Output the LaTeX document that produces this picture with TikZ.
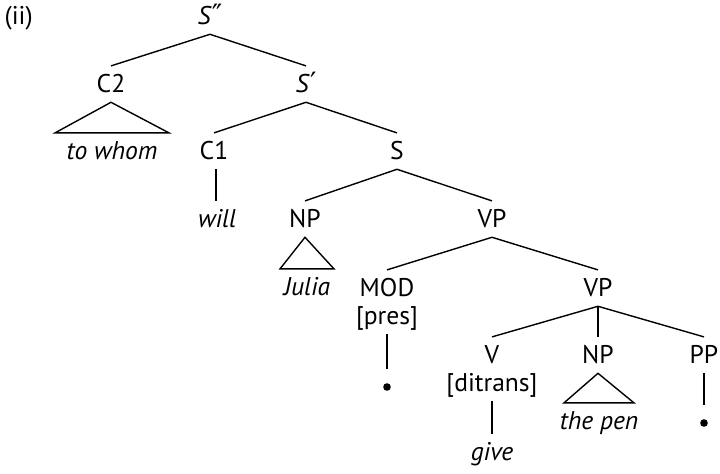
\documentclass[tikz,border=0pt]{standalone}
\usepackage{fontspec}
\setmainfont{PT Sans}
\newfontfamily\primefont{DejaVu Sans}
\usetikzlibrary{calc}
\newcommand{\roof}[3]{\draw (#1.south) -- ($(#2.north)+(-#3,0)$) -- ($(#2.north)+(#3,0)$) -- cycle;}
\newcommand{\sbar}[1]{\textit{S}{\primefont\fontsize{14}{14}\selectfont #1}}

\begin{document}
\begin{tikzpicture}[x=0.5pt,y=-0.5pt,line width=0.7pt]
\tikzset{
 cat/.style={anchor=base,inner xsep=0pt,inner ysep=4.3pt,text height=8.9pt,text depth=0pt,font=\fontsize{12.8}{14}\selectfont},
 word/.style={cat,font=\fontsize{12.8}{14}\selectfont\itshape},
 dot/.style={circle,fill,inner sep=0pt,minimum size=3.8pt,outer sep=7.2pt}
}
\useasboundingbox (0,0) rectangle (720,474);
\node[cat,anchor=base west] (ii) at (4,25) {(ii)};
% upper part
\node[cat] (Spp) at (210,25) {\sbar{″}};
\node[cat] (C2) at (111,93) {C2};
\node[cat] (Sp) at (306,93) {\sbar{′}};
\node[word] (whom) at (112,160) {to whom};
\node[cat] (C1) at (214,160) {C1};
\node[cat] (S) at (397,160) {S};
\node[word] (will) at (217,228) {will};
\node[cat] (NPa) at (305,228) {NP};
\node[cat] (VPa) at (492,228) {VP};
\node[word] (julia) at (307,296) {Julia};
% lower part
\node[cat] (MOD) at (387,297) {MOD};
\node[cat] (pres) at (387,325) {[pres]};
\node[dot] (bula) at (387,387) {};
\node[cat] (VPb) at (598,297) {VP};
\node[cat] (V) at (492,364) {V};
\node[cat] (ditr) at (492,392) {[ditrans]};
\node[word] (give) at (492,461) {give};
\node[cat] (NPb) at (598,364) {NP};
\node[word] (pen) at (599,430) {the pen};
\node[cat] (PP) at (704,364) {PP};
\node[dot] (bulb) at (704,423) {};
\draw (Spp.south) -- (C2.north);
\draw (Spp.south) -- (Sp.north);
\roof{C2}{whom}{57}
\draw (Sp.south) -- (C1.north);
\draw (Sp.south) -- (S.north);
\draw ([xshift=1pt]C1.south) -- ([xshift=1pt]C1.south |- will.north);
\draw (S.south) -- (NPa.north);
\draw (S.south) -- (VPa.north);
\roof{NPa}{julia}{27}
\draw (VPa.south) -- (MOD.north);
\draw (VPa.south) -- (VPb.north);
\draw (pres.south) -- (bula.north);
\draw (VPb.south) -- (V.north);
\draw (VPb.south) -- (NPb.north);
\draw (VPb.south) -- (PP.north);
\draw (ditr.south) -- (give.north);
\roof{NPb}{pen}{35}
\draw (PP.south) -- (bulb.north);
\end{tikzpicture}
\end{document}
